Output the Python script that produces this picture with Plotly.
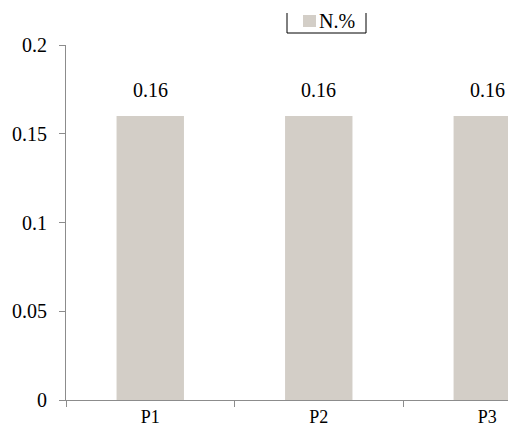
import plotly.graph_objects as go

categories = ["P1", "P2", "P3"]
values = [0.16, 0.16, 0.16]
series_name = "N.%"
y_ticks = [0, 0.05, 0.1, 0.15, 0.2]
y_tick_labels = ["0", "0.05", "0.1", "0.15", "0.2"]

FONT = "Times New Roman, Liberation Serif, DejaVu Serif, serif"
BAR_COLOR = "#D3CEC7"
AXIS_COLOR = "#8C8C8C"

# plot area in pixels: x 66..508, y 45..400
PL, PT, PW, PH = 66, 45, 442, 355


def px_x(x):
    return (x - PL) / PW


def px_y(y):
    return (PT + PH - y) / PH


fig = go.Figure()
fig.add_trace(go.Bar(
    x=categories, y=values, name=series_name,
    marker=dict(color=BAR_COLOR, line=dict(width=0)),
    width=0.4, showlegend=False,
))

# value labels above each bar
for c, v in zip(categories, values):
    fig.add_annotation(x=c, y=v, text=f"{v:g}", showarrow=False,
                       yanchor="bottom", yshift=13,
                       font=dict(family=FONT, size=20, color="#000"))

# key: frame (left, bottom, right edges), swatch and series name
frame = dict(type="line", xref="paper", yref="paper",
             line=dict(color="#000", width=1))
x0, x1 = px_x(287), px_x(366)
yb, yt = px_y(33), px_y(13)
fig.add_shape(**frame, x0=x0, x1=x0, y0=yb, y1=yt)
fig.add_shape(**frame, x0=x1, x1=x1, y0=yb, y1=yt)
fig.add_shape(**frame, x0=x0, x1=x1, y0=yb, y1=yb)
fig.add_shape(type="rect", xref="paper", yref="paper",
              x0=px_x(303), x1=px_x(316), y0=px_y(27), y1=px_y(15),
              fillcolor=BAR_COLOR, line=dict(width=0))
fig.add_annotation(xref="paper", yref="paper", x=px_x(317), y=px_y(21),
                   xanchor="left", yanchor="middle", showarrow=False,
                   text=series_name, font=dict(family=FONT, size=20, color="#000"))

fig.update_layout(
    width=508, height=427,
    margin=dict(l=66, r=0, t=45, b=27, autoexpand=False),
    paper_bgcolor="white", plot_bgcolor="white",
    font=dict(family=FONT, size=20, color="#000"),
    bargap=0.6,
    showlegend=False,
    xaxis=dict(type="category", range=[-0.5, 2.123], automargin=False,
               showline=True, linecolor=AXIS_COLOR, linewidth=1,
               ticks="outside", ticklen=6, tickcolor=AXIS_COLOR,
               tickson="boundaries", showgrid=False, zeroline=False,
               ticklabelstandoff=0,
               tickfont=dict(family=FONT, size=18)),
    yaxis=dict(range=[0, 0.2], tickvals=y_ticks, ticktext=y_tick_labels,
               automargin=False,
               showline=True, linecolor=AXIS_COLOR, linewidth=1,
               ticks="outside", ticklen=6, tickcolor=AXIS_COLOR,
               showgrid=False, zeroline=False,
               ticklabelstandoff=8,
               tickfont=dict(family=FONT, size=20)),
)

fig.write_html("out.html")
